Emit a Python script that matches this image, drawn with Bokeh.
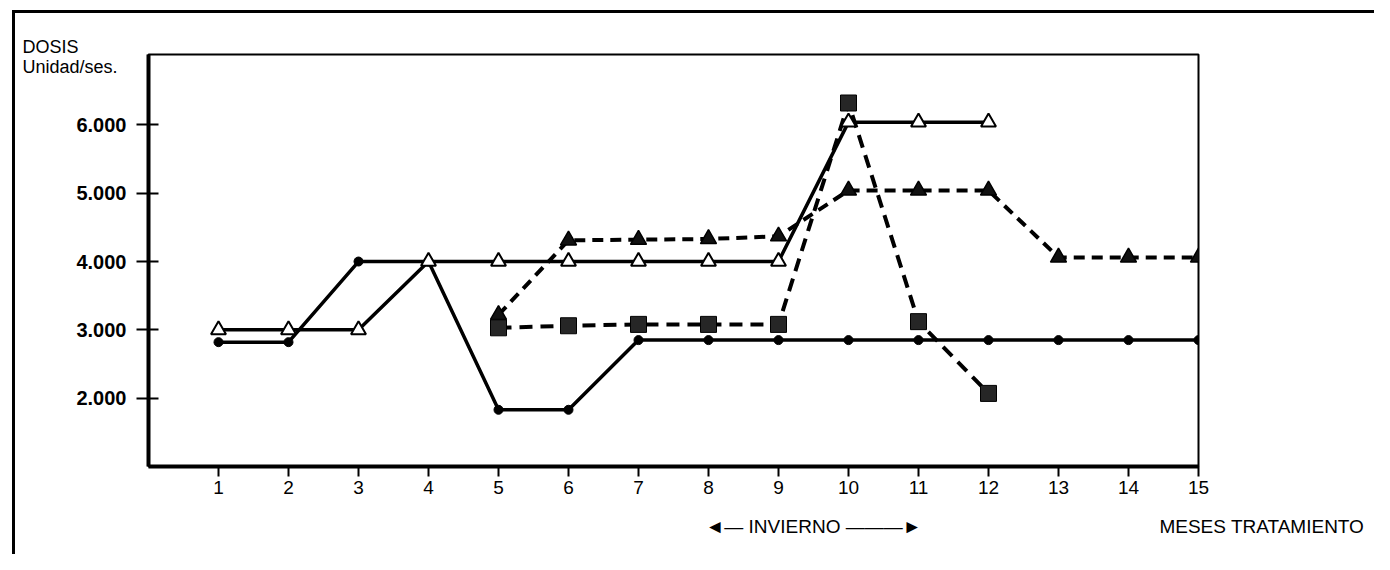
from bokeh.plotting import figure
from bokeh.models import FixedTicker, Range1d, LinearAxis, Title
from bokeh.embed import file_html
from bokeh.resources import INLINE

# ---- data ----
x_ticks = list(range(1, 16))
x_tick_labels = [str(m) for m in x_ticks]
y_ticks = [2000, 3000, 4000, 5000, 6000]
y_tick_labels = ["2.000", "3.000", "4.000", "5.000", "6.000"]

circ_x = list(range(1, 16))
circ_y = [2820, 2820, 4000, 4000, 1830, 1830, 2850, 2850, 2850, 2850, 2850, 2850, 2850, 2850, 2850]

otri_x = list(range(1, 13))
otri_y = [3000, 3000, 3000, 4000, 4000, 4000, 4000, 4000, 4000, 6040, 6040, 6040]

ftri_x = list(range(5, 16))
ftri_y = [3220, 4310, 4320, 4330, 4370, 5040, 5040, 5040, 4060, 4060, 4060]

sq_x = list(range(5, 13))
sq_y = [3030, 3060, 3080, 3080, 3080, 6320, 3120, 2070]

winter_mid = 9.5
winter_label = "\u25c4\u2014 INVIERNO \u2014\u2014\u2014\u25ba"
x_title = "MESES TRATAMIENTO"
y_title = "DOSIS\nUnidad/ses."

FONT = "Liberation Sans"
FL, FT, FR, FB = 148, 54, 1198, 466
W, H = 1374, 554
X0, X1, Y0, Y1 = 0, 15, 1000, 7030

p = figure(width=W, height=H, output_backend="svg", toolbar_location=None,
           x_range=Range1d(X0, X1), y_range=Range1d(Y0, Y1),
           min_border_left=FL, min_border_right=W - FR, min_border_top=FT, min_border_bottom=H - FB)
p.grid.visible = False
p.outline_line_color = "black"
p.outline_line_width = 2
p.background_fill_color = "white"
p.border_fill_alpha = 0
# page frame lines (left and top edge of the scanned sheet)
p.styles = {"background": "linear-gradient(#000,#000) 12px 10px / 3px 100% no-repeat, "
                          "linear-gradient(#000,#000) 12px 10px / 100% 3px no-repeat, #fff"}

p.xaxis.ticker = FixedTicker(ticks=x_ticks)
p.xaxis.major_label_overrides = {t: l for t, l in zip(x_ticks, x_tick_labels)}
p.yaxis.ticker = FixedTicker(ticks=y_ticks)
p.yaxis.major_label_overrides = {t: l for t, l in zip(y_ticks, y_tick_labels)}
for ax in (p.xaxis, p.yaxis):
    ax.axis_line_width = 4
    ax.major_tick_line_width = 2
    ax.minor_tick_line_color = None
    ax.major_label_text_color = "black"
    ax.major_label_text_font = FONT
p.xaxis.major_tick_in = 0
p.xaxis.major_tick_out = 10
p.xaxis.major_label_standoff = 4
p.xaxis.major_label_text_font_size = "19px"
p.yaxis.major_tick_in = 10
p.yaxis.major_tick_out = 12
p.yaxis.major_label_standoff = 10
p.yaxis.major_label_text_font_size = "20px"
p.yaxis.major_label_text_font_style = "bold"

# second, tick-less axis below carrying the "winter" arrow and the x title
pad = "\u00a0" * 24
extra = LinearAxis(ticker=FixedTicker(ticks=[winter_mid, X1]),
                   major_label_overrides={winter_mid: winter_label, X1: pad + x_title},
                   axis_line_color=None, major_tick_line_color=None, minor_tick_line_color=None,
                   major_tick_in=0, major_tick_out=0, major_label_standoff=19,
                   major_label_text_font=FONT, major_label_text_font_size="19px",
                   major_label_text_color="black")
p.add_layout(extra, "below")

# y title in the top-left corner
p.add_layout(Title(text=y_title, align="left", offset=22 - FL, standoff=-44,
                   text_font=FONT, text_font_size="18px", text_font_style="normal",
                   text_color="black"), "above")

p.line(circ_x, circ_y, line_color="black", line_width=3.5)
p.line(otri_x, otri_y, line_color="black", line_width=3.5)
p.line(ftri_x, ftri_y, line_color="black", line_width=4, line_dash="11 7")
p.line(sq_x, sq_y, line_color="black", line_width=4, line_dash="13 8")
p.scatter(circ_x, circ_y, marker="circle", size=9, fill_color="black", line_color="black")
p.scatter(otri_x, otri_y, marker="triangle", size=15, fill_color="white", line_color="black", line_width=2)
p.scatter(ftri_x, ftri_y, marker="triangle", size=16, fill_color="#111111", line_color="black", line_width=1.5)
p.scatter(sq_x, sq_y, marker="square", size=16, fill_color="#262626", line_color="black", line_width=1)

open("out.html", "w").write(file_html(p, INLINE))
